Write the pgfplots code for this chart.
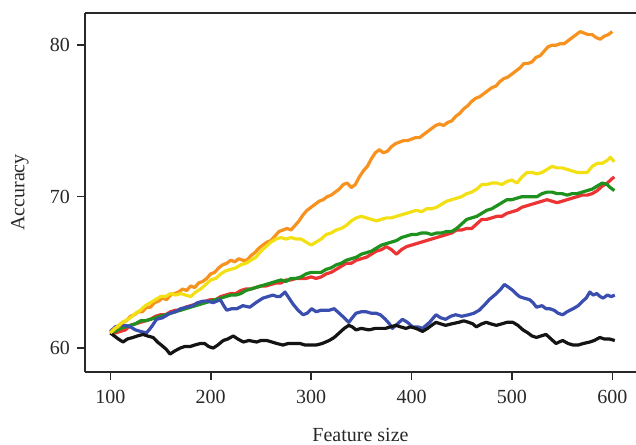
\documentclass[border=0pt]{standalone}
\usepackage{fontspec}
\setmainfont{Liberation Serif}
\usepackage{pgfplots}
\pgfplotsset{compat=1.18}
\definecolor{corange}{RGB}{247,146,30}
\definecolor{cyellow}{RGB}{242,224,20}
\definecolor{cred}{RGB}{236,52,52}
\definecolor{cgreen}{RGB}{30,145,30}
\definecolor{cblue}{RGB}{58,78,176}
\definecolor{cblack}{RGB}{20,20,20}
\definecolor{axgray}{RGB}{40,40,40}
\begin{document}
\begin{tikzpicture}
\begin{axis}[
  scale only axis,
  width=275.5pt, height=179.5pt,
  xmin=74.8, xmax=623.6, ymin=58.42, ymax=82.13,
  axis x line*=box, axis y line*=left,
  axis line style={-, axgray, line width=0.8pt},
  xtick={100,200,300,400,500,600},
  ytick={60,70,80},
  xtick pos=bottom, ytick pos=left,
  tick align=outside,
  major tick length=4pt,
  tick style={axgray, line width=0.8pt},
  /pgf/number format/assume math mode=true,
  ticklabel style={font=\fontsize{10}{12}\selectfont, text=axgray},
  xticklabel style={yshift=-1.5pt},
  xlabel={Feature size},
  ylabel={Accuracy},
  label style={font=\fontsize{10}{12}\selectfont, text=axgray},
  xlabel style={at={(axis description cs:0.5,-0.1755)}, anchor=center},
  ylabel style={at={(axis description cs:-0.118,0.5)}, anchor=center},
  every axis plot/.append style={line width=1.6pt, line join=round, mark=none},
]
\addplot[cred] coordinates {(100,61.0)(105,61.0)(110,61.1)(115,61.2)(120,61.5)(125,61.6)(130,61.7)(135,61.8)(140,61.9)(145,62.1)(150,62.2)(155,62.2)(160,62.4)(165,62.5)(170,62.5)(175,62.7)(180,62.8)(185,62.9)(190,63.0)(195,63.1)(200,63.2)(205,63.2)(210,63.4)(215,63.5)(220,63.6)(225,63.6)(230,63.8)(235,63.9)(240,63.9)(245,64.0)(250,64.1)(255,64.1)(260,64.2)(265,64.3)(270,64.3)(275,64.5)(280,64.5)(285,64.6)(290,64.6)(295,64.6)(300,64.7)(305,64.6)(310,64.7)(315,64.9)(320,65.0)(325,65.2)(330,65.4)(335,65.6)(340,65.6)(345,65.8)(350,65.9)(355,66.0)(360,66.2)(365,66.4)(370,66.5)(375,66.7)(380,66.5)(385,66.2)(390,66.5)(395,66.7)(400,66.8)(405,66.9)(410,67.0)(415,67.1)(420,67.2)(425,67.3)(430,67.4)(435,67.5)(440,67.6)(445,67.8)(450,67.8)(455,67.9)(460,67.9)(465,68.2)(470,68.5)(475,68.5)(480,68.6)(485,68.7)(490,68.7)(495,68.9)(500,69.0)(505,69.1)(510,69.3)(515,69.4)(520,69.5)(525,69.6)(530,69.7)(535,69.8)(540,69.7)(545,69.6)(550,69.7)(555,69.8)(560,69.9)(565,70.0)(570,70.1)(575,70.1)(580,70.2)(585,70.4)(590,70.7)(595,70.9)(600,71.2)(602,71.3)};
\addplot[cgreen] coordinates {(100,61.0)(105,61.1)(110,61.3)(115,61.4)(120,61.5)(125,61.6)(130,61.8)(135,61.8)(140,61.9)(145,62.0)(150,62.1)(155,62.2)(160,62.3)(165,62.4)(170,62.5)(175,62.6)(180,62.7)(185,62.8)(190,62.9)(195,63.0)(200,63.1)(205,63.2)(210,63.3)(215,63.4)(220,63.5)(225,63.5)(230,63.6)(235,63.8)(240,63.9)(245,64.0)(250,64.1)(255,64.2)(260,64.3)(265,64.4)(270,64.5)(275,64.4)(280,64.6)(285,64.6)(290,64.7)(295,64.9)(300,65.0)(305,65.0)(310,65.0)(315,65.2)(320,65.3)(325,65.5)(330,65.6)(335,65.8)(340,65.9)(345,66.0)(350,66.2)(355,66.3)(360,66.4)(365,66.6)(370,66.8)(375,66.9)(380,67.0)(385,67.1)(390,67.3)(395,67.4)(400,67.5)(405,67.5)(410,67.6)(415,67.6)(420,67.5)(425,67.6)(430,67.6)(435,67.7)(440,67.7)(445,67.9)(450,68.2)(455,68.5)(460,68.6)(465,68.7)(470,68.9)(475,69.1)(480,69.2)(485,69.4)(490,69.6)(495,69.8)(500,69.8)(505,69.9)(510,70.0)(515,70.0)(520,70.0)(525,70.0)(530,70.2)(535,70.3)(540,70.3)(545,70.2)(550,70.2)(555,70.1)(560,70.2)(565,70.2)(570,70.3)(575,70.4)(580,70.5)(585,70.7)(590,70.9)(595,70.8)(598,70.6)(602,70.4)};
\addplot[cblue] coordinates {(100,61.1)(105,61.4)(110,61.5)(115,61.5)(120,61.4)(125,61.2)(130,61.1)(136,61.0)(141,61.4)(146,61.9)(152,62.0)(159.5,62.3)(165,62.4)(170,62.6)(176,62.7)(182,62.8)(187,63.0)(192.5,63.1)(197,63.1)(202.5,63.0)(206,63.1)(209.5,63.2)(213,62.8)(216,62.5)(221,62.6)(226,62.6)(232,62.8)(239,62.7)(245,63.0)(252,63.3)(257,63.4)(262,63.5)(266,63.4)(269,63.4)(274,63.7)(278,63.3)(282,62.9)(287,62.5)(292,62.2)(296,62.3)(300.5,62.6)(305,62.4)(310,62.5)(318,62.5)(323,62.6)(328,62.3)(333,62.0)(337.5,61.7)(341,62.0)(344.7,62.3)(350,62.4)(354.7,62.4)(360,62.3)(364.6,62.3)(369,62.2)(374,61.9)(378,61.6)(381,61.3)(386,61.6)(391,61.9)(396,61.7)(401,61.4)(406,61.4)(411,61.3)(418,61.7)(424.4,62.2)(429,62.0)(434,61.9)(439,62.1)(444,62.2)(450,62.1)(457,62.2)(462,62.3)(467.5,62.5)(472,62.8)(477.5,63.2)(481,63.4)(484.5,63.6)(489,63.9)(492.5,64.2)(497,64.0)(501,63.8)(504,63.6)(507.5,63.4)(512,63.3)(517.5,63.2)(521,63.0)(524.5,62.7)(530,62.8)(534,62.6)(537.5,62.6)(542,62.5)(546,62.3)(550.6,62.2)(555,62.4)(561,62.6)(566,62.8)(570.5,63.1)(574,63.3)(577.6,63.7)(581,63.5)(584.5,63.6)(588,63.4)(591,63.3)(595,63.5)(599,63.4)(602.5,63.5)};
\addplot[cblack] coordinates {(100,61.0)(104,60.8)(108,60.6)(112.7,60.4)(117,60.6)(122.6,60.7)(127,60.8)(132.6,60.9)(137,60.8)(142.6,60.7)(147,60.4)(152.6,60.1)(156,59.9)(159.5,59.6)(164,59.8)(169.6,60.0)(174,60.1)(179.5,60.1)(184,60.2)(189.5,60.3)(194,60.3)(198,60.1)(202.5,60.0)(207,60.2)(212.5,60.5)(217,60.6)(222.5,60.8)(227,60.6)(232.5,60.4)(238,60.5)(245.8,60.4)(250,60.5)(255.8,60.5)(261,60.4)(266,60.3)(272,60.2)(277,60.3)(283,60.3)(289,60.3)(294,60.2)(299,60.2)(305,60.2)(311,60.3)(318,60.5)(323,60.7)(328,61.0)(333,61.3)(337.5,61.5)(341,61.4)(344.7,61.2)(350,61.3)(357.5,61.2)(364,61.3)(369,61.3)(374,61.3)(379,61.4)(384.5,61.5)(389,61.4)(394.5,61.3)(399,61.4)(404.5,61.3)(411,61.1)(416,61.3)(420,61.5)(424.4,61.7)(429,61.6)(434,61.5)(440,61.6)(447,61.7)(452,61.8)(457,61.7)(461,61.6)(464.5,61.4)(470,61.6)(474.5,61.7)(479,61.6)(484.5,61.5)(490,61.6)(495,61.7)(501,61.7)(506,61.5)(511,61.2)(516,61.0)(520,60.8)(524.5,60.7)(529,60.8)(534,60.9)(539,60.6)(544,60.3)(547,60.4)(550.6,60.5)(556,60.3)(561,60.2)(566,60.2)(571,60.3)(577.6,60.4)(582,60.5)(587.6,60.7)(592,60.6)(597,60.6)(602.5,60.5)};
\addplot[corange] coordinates {(100,61.0)(104,61.3)(108,61.4)(112,61.7)(116,61.8)(120,62.1)(124,62.2)(128,62.4)(132,62.4)(136,62.7)(140,62.7)(144,63.0)(148,63.1)(152,63.3)(156,63.2)(160,63.5)(164,63.6)(168,63.7)(172,63.9)(176,63.8)(180,64.1)(184,64.0)(188,64.3)(192,64.4)(196,64.6)(200,64.9)(204,65.0)(208,65.3)(212,65.5)(216,65.6)(220,65.8)(224,65.7)(228,65.9)(232,65.8)(236,65.8)(240,66.1)(244,66.3)(248,66.6)(252,66.8)(256,67.0)(260,67.1)(264,67.4)(268,67.7)(272,67.8)(276,67.9)(280,67.8)(284,68.1)(288,68.4)(292,68.8)(296,69.1)(300,69.3)(304,69.5)(308,69.7)(312,69.8)(316,70.0)(320,70.1)(324,70.3)(328,70.5)(332,70.8)(336,70.9)(340,70.6)(344,70.8)(348,71.3)(352,71.7)(356,72.0)(360,72.5)(364,72.9)(368,73.1)(372,72.9)(376,73.0)(380,73.3)(384,73.5)(388,73.6)(392,73.7)(396,73.7)(400,73.8)(404,73.9)(408,73.9)(412,74.1)(416,74.3)(420,74.5)(424,74.7)(428,74.8)(432,74.7)(436,74.9)(440,75.0)(444,75.3)(448,75.5)(452,75.8)(456,76.0)(460,76.3)(464,76.5)(468,76.6)(472,76.8)(476,77.0)(480,77.2)(484,77.3)(488,77.6)(492,77.8)(496,77.9)(500,78.1)(504,78.3)(508,78.5)(512,78.8)(516,78.8)(520,78.9)(524,79.2)(528,79.3)(532,79.6)(536,79.9)(540,80.0)(544,80.0)(548,80.1)(552,80.1)(556,80.3)(560,80.5)(564,80.7)(568,80.9)(572,80.8)(576,80.7)(580,80.7)(584,80.5)(588,80.4)(592,80.6)(596,80.7)(600,80.9)};
\addplot[cyellow] coordinates {(100,61.0)(105,61.3)(110,61.6)(115,61.8)(120,62.0)(125,62.3)(130,62.5)(135,62.8)(140,63.0)(145,63.2)(150,63.4)(155,63.4)(160,63.6)(165,63.5)(170,63.6)(175,63.5)(180,63.4)(185,63.7)(190,63.9)(195,64.2)(200,64.5)(205,64.6)(210,64.9)(215,65.1)(220,65.2)(225,65.3)(230,65.5)(235,65.6)(240,65.8)(245,66.0)(250,66.4)(255,66.7)(260,67.0)(265,67.2)(270,67.3)(275,67.2)(280,67.3)(285,67.2)(290,67.2)(295,67.0)(300,66.8)(305,67.0)(310,67.2)(315,67.5)(320,67.6)(325,67.8)(330,67.9)(335,68.1)(340,68.4)(345,68.6)(350,68.7)(355,68.6)(360,68.5)(365,68.4)(370,68.5)(375,68.6)(380,68.6)(385,68.7)(390,68.8)(395,68.9)(400,69.0)(405,69.1)(410,69.0)(415,69.2)(420,69.2)(425,69.3)(430,69.5)(435,69.7)(440,69.8)(445,69.9)(450,70.0)(455,70.2)(460,70.3)(465,70.5)(470,70.8)(475,70.8)(480,70.9)(485,70.9)(490,70.8)(495,71.0)(500,71.1)(505,70.9)(510,71.3)(515,71.6)(520,71.6)(525,71.5)(530,71.6)(535,71.8)(540,72.0)(545,71.9)(550,71.9)(555,71.8)(560,71.7)(565,71.6)(570,71.6)(575,71.6)(580,72.0)(585,72.2)(590,72.2)(595,72.4)(598,72.6)(602,72.3)};
\coordinate (bbl) at (rel axis cs:-0.1543,-0.2033);
\coordinate (btr) at (rel axis cs:1,1.0362);
\end{axis}
\pgfresetboundingbox
\path[use as bounding box] (bbl) rectangle (btr);
\end{tikzpicture}
\end{document}
